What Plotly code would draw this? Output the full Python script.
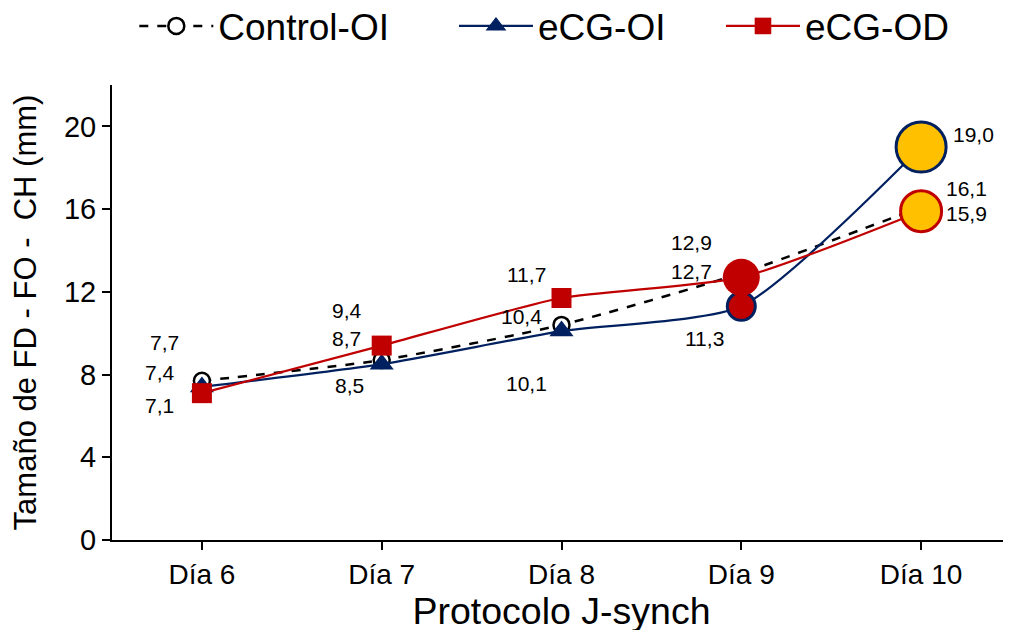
import plotly.graph_objects as go

days = ["Día 6", "Día 7", "Día 8", "Día 9", "Día 10"]
control_oi = [7.7, 8.7, 10.4, 12.9, 16.1]
ecg_oi = [7.4, 8.5, 10.1, 11.3, 19.0]
ecg_od = [7.1, 9.4, 11.7, 12.7, 15.9]

NAVY = "#002060"
RED = "#C00000"
YEL = "#FFC000"
FONT = "Arial, Liberation Sans, sans-serif"

fig = go.Figure()

fig.add_trace(go.Scatter(
    x=days, y=control_oi, name="Control-OI", mode="lines+markers", legend="legend",
    showlegend=True,
    line=dict(color="black", width=2.5, dash="dash", shape="spline", smoothing=0.6),
    marker=dict(symbol="circle", size=16, color="white", opacity=1,
                line=dict(color="black", width=2.5)),
))
fig.add_trace(go.Scatter(
    x=days, y=ecg_oi, name="eCG-OI", mode="lines+markers", legend="legend2",
    showlegend=True,
    line=dict(color=NAVY, width=2.2, shape="spline", smoothing=0.6),
    marker=dict(symbol=["triangle-up"] * 3 + ["circle", "circle"],
                size=[21, 21, 21, 28, 50], opacity=1,
                color=[NAVY, NAVY, NAVY, RED, YEL],
                line=dict(color=NAVY, width=[0, 0, 0, 3, 3])),
))
fig.add_trace(go.Scatter(
    x=days, y=ecg_od, name="eCG-OD", mode="lines+markers", legend="legend3",
    showlegend=True,
    line=dict(color=RED, width=2.2, shape="spline", smoothing=0.6),
    marker=dict(symbol=["square"] * 3 + ["circle", "circle"],
                size=[20, 20, 20, 37, 41], opacity=1,
                color=[RED, RED, RED, RED, YEL],
                line=dict(color=RED, width=[0, 0, 0, 0, 3])),
))

# label offsets (pixels) per series, per day
offs = {
    "c": [(-37, 38), (-35, 22), (-40, 8), (-50, 31), (45, 19)],
    "i": [(-42, 14), (-32, -21), (-35, -52), (-37, -32), (52, 13)],
    "d": [(-42, -12), (-35, 35), (-35, 24), (-50, 6), (45, -2)],
}
for key, vals in (("c", control_oi), ("i", ecg_oi), ("d", ecg_od)):
    for d, v, (dx, dy) in zip(days, vals, offs[key]):
        fig.add_annotation(x=d, y=v, text=f"{v:.1f}".replace(".", ","),
                           showarrow=False, xshift=dx, yshift=dy,
                           font=dict(family=FONT, size=21, color="black"))

leg_common = dict(orientation="h", xanchor="left", y=1.197, yanchor="top",
                  font=dict(family=FONT, size=37), itemwidth=74, bgcolor="rgba(0,0,0,0)",
                  visible=True)

fig.update_layout(
    width=1011, height=630,
    showlegend=True,
    margin=dict(l=104, r=8, t=77, b=98, autoexpand=False),
    paper_bgcolor="white", plot_bgcolor="white",
    font=dict(family=FONT, color="black"),
    legend=dict(x=0.0248, **leg_common),
    legend2=dict(x=0.3804, **leg_common),
    legend3=dict(x=0.6774, **leg_common),
    xaxis=dict(title=dict(text="Protocolo J-synch", font=dict(size=37.5), standoff=7),
               range=[-0.5, 4.5], showline=True, linecolor="black", linewidth=2,
               ticks="outside", ticklen=8, tickwidth=2, tickcolor="black",
               tickfont=dict(size=28), showgrid=False, zeroline=False, automargin=False),
    yaxis=dict(title=dict(text="Tamaño de FD - FO -  CH (mm)", font=dict(size=31), standoff=23),
               range=[0, 22], tickvals=[0, 4, 8, 12, 16, 20], showline=True,
               linecolor="black", linewidth=2, ticks="outside", ticklen=8, tickwidth=2,
               tickcolor="black", tickfont=dict(size=29), showgrid=False, zeroline=False,
               automargin=False),
)

fig.write_html("out.html")
